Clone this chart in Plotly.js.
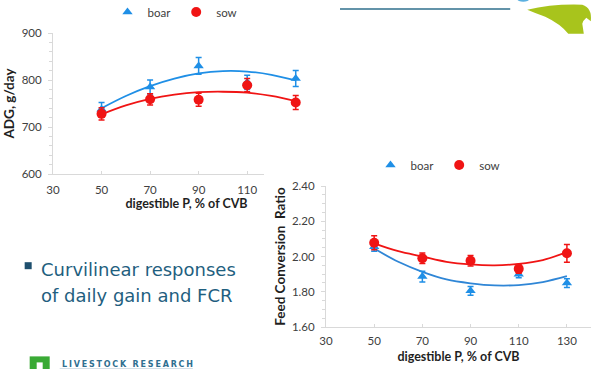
<!DOCTYPE html>
<html><head><meta charset="utf-8">
<script src="https://cdn.plot.ly/plotly-3.0.1.min.js"></script>
<style>
html,body{margin:0;padding:0;background:#fff;overflow:hidden;width:593px;height:369px;}
#slide{position:absolute;left:0;top:0;width:593px;height:369px;}
#fcr{position:absolute;left:264px;top:150px;width:329px;height:219px;}
</style></head><body>
<div id="slide"></div><div id="fcr"></div>
<script>
// ---- data ----
var digestibleP = [50, 70, 90, 110, 130];
var adgBoar = [738, 785, 830, 795, 803];
var adgBoarErr = [14, 15, 18, 15, 17];
var adgSow = [728, 759, 758, 789, 752];
var adgSowErr = [13, 12, 14, 14, 15];
var fitP = [50, 60, 70, 80, 90, 100, 110, 120, 130];
var adgBoarFit = [740, 766, 787, 803, 814, 819, 818, 811, 799];
var adgSowFit = [727, 746, 760, 769, 774, 775, 773, 766, 755];
var fcrBoar = [2.055, 1.886, 1.805, 1.900, 1.849];
var fcrBoarErr = [0.025, 0.03, 0.025, 0.02, 0.025];
var fcrSow = [2.078, 1.990, 1.976, 1.930, 2.018];
var fcrSowErr = [0.04, 0.03, 0.03, 0.025, 0.05];
var fcrBoarFit = [2.045, 1.970, 1.913, 1.870, 1.848, 1.836, 1.838, 1.855, 1.888];
var fcrSowFit = [2.075, 2.030, 2.000, 1.970, 1.955, 1.950, 1.958, 1.980, 2.025];
var adgXTicks = [30, 50, 70, 90, 110];           // 130 label of the top chart is hidden behind the FCR chart
var fcrXTicks = [30, 50, 70, 90, 110, 130];
var seriesNames = ['boar', 'sow'];
var xTitle = 'digestible P, % of CVB';
var adgTitle = 'ADG, g/day';
var fcrTitle = 'Feed Conversion  Ratio';
var bulletLines = ['Curvilinear responses', 'of daily gain and FCR'];
var brandText = 'LIVESTOCK RESEARCH';

// ---- styles ----
var BLUE = '#1f8fe6', BLUE_LINE = '#2f86d6', RED = '#f01414';
var FONT = 'Lato, "Open Sans", sans-serif';
var AX = '#d9d9d9', TICKC = '#404040', TITLEC = '#1f1f1f';

function seriesTraces(boar, boarErr, sow, sowErr, boarFit, sowFit, blueLine) {
  return [
    {x: fitP, y: boarFit, mode: 'lines', line: {color: blueLine, width: 1.8, shape: 'spline'}, showlegend: false, hoverinfo: 'skip'},
    {x: fitP, y: sowFit, mode: 'lines', line: {color: RED, width: 1.8, shape: 'spline'}, showlegend: false, hoverinfo: 'skip'},
    {x: digestibleP, y: boar, name: seriesNames[0], mode: 'markers', marker: {symbol: 'triangle-up', size: 9, color: BLUE},
     error_y: {type: 'data', array: boarErr, visible: true, color: BLUE, thickness: 1.5, width: 3}},
    {x: digestibleP, y: sow, name: seriesNames[1], mode: 'markers', marker: {symbol: 'circle', size: 10, color: RED},
     error_y: {type: 'data', array: sowErr, visible: true, color: RED, thickness: 1.5, width: 3}}
  ];
}

function xAxis(ticks, standoff, lblStand) {
  return {range: [30, 140], tickmode: 'array', tickvals: ticks, showline: true, linecolor: AX, linewidth: 1,
    ticks: 'inside', ticklen: 3, tickcolor: AX, showgrid: false, zeroline: false,
    ticklabelstandoff: lblStand,
    tickfont: {family: FONT, size: 11.5, color: TICKC},
    title: {text: xTitle, standoff: standoff, font: {family: FONT, size: 12.5, weight: 700, color: TITLEC}}};
}
function yAxis(range, dtick, minor, fmt, title, standoff) {
  return {range: range, dtick: dtick, tickformat: fmt, showline: true, linecolor: AX, linewidth: 1,
    ticks: 'outside', ticklen: 4, tickcolor: AX, showgrid: false, zeroline: false,
    ticklabelstandoff: 4,
    minor: {dtick: minor, ticks: 'outside', ticklen: 3, tickcolor: AX, showgrid: false},
    tickfont: {family: FONT, size: 11.5, color: TICKC},
    title: {text: title, standoff: standoff, font: {family: FONT, size: 13.5, weight: 700, color: TITLEC}}};
}

// ---- chart 1: ADG, with slide decorations ----
var L1 = 53.3, R1 = 320, T1 = 33.3, B1 = 174;
function fx(x) { return (x - L1) / (R1 - L1); }
function fy(y) { return (B1 - y) / (B1 - T1); }
function P(x, y) { return fx(x) + ',' + fy(y); }

var t1 = seriesTraces(adgBoar, adgBoarErr, adgSow, adgSowErr, adgBoarFit, adgSowFit, BLUE);

var logoPath = 'M' + P(527, 10) + ' Q' + P(552, 4) + ' ' + P(582, 5) + ' Q' + P(592, 8) + ' ' + P(590.5, 21.5) +
  ' L' + P(586, 18) + ' Q' + P(582.5, 21) + ' ' + P(582, 24) + ' L' + P(583.5, 34) + ' L' + P(568, 34) +
  ' Q' + P(560, 24) + ' ' + P(545, 17) + ' Q' + P(534, 13) + ' ' + P(527, 10) + ' Z';

var layout1 = {
  width: 593, height: 369, autosize: false,
  margin: {l: L1, r: 593 - R1, t: T1, b: 369 - B1, pad: 0},
  paper_bgcolor: '#ffffff', plot_bgcolor: '#ffffff',
  font: {family: FONT, color: TICKC},
  xaxis: xAxis(adgXTicks, 4, 5),
  yaxis: yAxis([600, 900], 100, 20, '', adgTitle, 3),
  showlegend: true,
  legend: {orientation: 'h', xref: 'container', yref: 'container', x: 175 / 593, y: 1 - 12 / 369,
    xanchor: 'center', yanchor: 'middle', font: {family: FONT, size: 11.5, color: TICKC}, bgcolor: 'rgba(0,0,0,0)', itemwidth: 30},
  annotations: [
    {xref: 'paper', yref: 'paper', x: fx(39), y: fy(269.5), xanchor: 'left', yanchor: 'middle', showarrow: false,
     text: bulletLines[0], font: {family: '"DejaVu Sans", Verdana, sans-serif', size: 18, color: '#1f5f7f'}},
    {xref: 'paper', yref: 'paper', x: fx(39), y: fy(295.5), xanchor: 'left', yanchor: 'middle', showarrow: false,
     text: bulletLines[1], font: {family: '"DejaVu Sans", Verdana, sans-serif', size: 18, color: '#1f5f7f'}},
    {xref: 'paper', yref: 'paper', x: fx(60), y: fy(364), xanchor: 'left', yanchor: 'middle', showarrow: false,
     text: '<span style="letter-spacing:1.8px">' + brandText + '</span>',
     font: {family: '"DejaVu Sans", sans-serif', size: 8, weight: 700, color: '#2f6f90'}}
  ],
  shapes: [
    {type: 'rect', xref: 'paper', yref: 'paper', x0: fx(25), x1: fx(32), y0: fy(262), y1: fy(269), fillcolor: '#1e4f6e', line: {width: 0}},
    {type: 'line', xref: 'paper', yref: 'paper', x0: fx(340), x1: fx(510), y0: fy(9.3), y1: fy(9.3), line: {color: '#2f6f8c', width: 1.5}},
    {type: 'path', xref: 'paper', yref: 'paper', path: logoPath, fillcolor: '#a8c41c', line: {width: 0}},
    {type: 'circle', xref: 'paper', yref: 'paper', x0: fx(517), x1: fx(529), y0: fy(-3), y1: fy(2), fillcolor: '#5bb0e0', line: {width: 0}},
    {type: 'rect', xref: 'paper', yref: 'paper', x0: fx(30), x1: fx(50), y0: fy(356), y1: fy(372), fillcolor: '#3aaa35', line: {width: 0}},
    {type: 'rect', xref: 'paper', yref: 'paper', x0: fx(37), x1: fx(43), y0: fy(362), y1: fy(372), fillcolor: '#ffffff', line: {width: 0}},
    {type: 'line', xref: 'paper', yref: 'paper', x0: fx(60), x1: fx(193), y0: fy(368.5), y1: fy(368.5), line: {color: '#b7cbd8', width: 1}}
  ]
};
Plotly.newPlot('slide', t1, layout1, {staticPlot: true, displayModeBar: false});

// ---- chart 2: FCR ----
var t2 = seriesTraces(fcrBoar, fcrBoarErr, fcrSow, fcrSowErr, fcrBoarFit, fcrSowFit, BLUE_LINE);
var layout2 = {
  width: 329, height: 219, autosize: false,
  margin: {l: 61.7, r: 2.2, t: 35.7, b: 41.7, pad: 0},
  paper_bgcolor: '#ffffff', plot_bgcolor: '#ffffff',
  font: {family: FONT, color: TICKC},
  xaxis: xAxis(fcrXTicks, 6, 3),
  yaxis: yAxis([1.6, 2.4], 0.2, 0.05, '.2f', fcrTitle, 3),
  showlegend: true,
  legend: {orientation: 'h', xref: 'container', yref: 'container', x: (438 - 264) / 329, y: 1 - 15 / 219,
    xanchor: 'center', yanchor: 'middle', font: {family: FONT, size: 11.5, color: TICKC}, bgcolor: 'rgba(0,0,0,0)', itemwidth: 30}
};
Plotly.newPlot('fcr', t2, layout2, {staticPlot: true, displayModeBar: false});
</script>
</body></html>
